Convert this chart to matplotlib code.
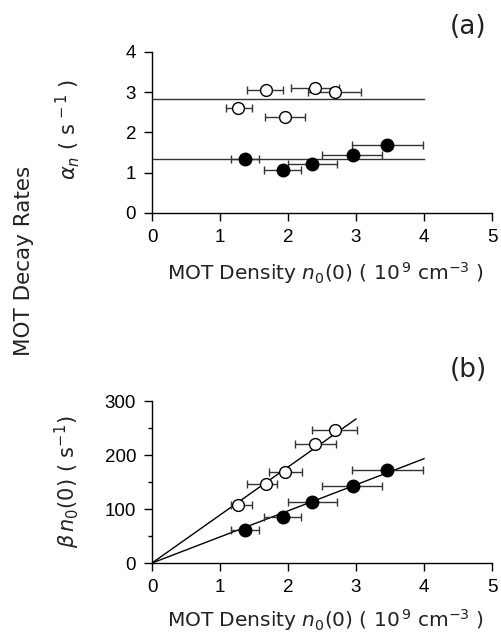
import numpy as np
import matplotlib as mpl
mpl.use('Agg')
import matplotlib.pyplot as plt

mpl.rcParams['font.family'] = ['Liberation Sans']
mpl.rcParams['mathtext.fontset'] = 'dejavusans'
mpl.rcParams['axes.linewidth'] = 1.0

# open circles
n_open = [1.67, 2.40, 2.69, 1.27, 1.95]
n_open_lo = [1.40, 2.05, 2.30, 1.09, 1.66]
n_open_hi = [1.93, 2.75, 3.08, 1.47, 2.25]
alpha_open = [3.06, 3.11, 3.01, 2.62, 2.39]
alpha_open_mean = 2.84

# filled circles
n_fill = [1.37, 1.92, 2.36, 2.95, 3.45]
n_fill_lo = [1.16, 1.64, 2.00, 2.50, 2.94]
n_fill_hi = [1.57, 2.19, 2.72, 3.38, 3.98]
alpha_fill = [1.33, 1.07, 1.22, 1.44, 1.69]
alpha_fill_mean = 1.35

# panel (b): beta*n0(0), same densities
bn_n_open = [1.27, 1.67, 1.95, 2.40, 2.69]
bn_n_open_lo = [1.16, 1.40, 1.72, 2.10, 2.36]
bn_n_open_hi = [1.47, 1.84, 2.20, 2.71, 3.02]
beta_open = [108, 146, 169, 220, 246]
slope_open = 88.9
bn_fill = [62, 85, 113, 143, 173]
slope_fill = 48.3

xlab = 'MOT Density $n_0$(0) ( 10$^{\\,9}$ cm$^{-3}$ )'
lab_font = dict(family='DejaVu Sans', color='#222222')


def xerr(x, lo, hi):
    x = np.array(x)
    return [x - np.array(lo), np.array(hi) - x]


def style(ax):
    ax.spines['top'].set_visible(False)
    ax.spines['right'].set_visible(False)
    ax.set_xlim(0, 5)
    ax.set_xticks([0, 1, 2, 3, 4, 5])
    ax.tick_params(labelsize=13.5, direction='out', length=5.5, width=1, pad=6)
    ax.tick_params(which='minor', direction='out', length=3, width=1)


fig = plt.figure(figsize=(5.01, 6.39), dpi=100)

ax1 = fig.add_axes([0.3034, 0.6667, 0.6786, 0.2520])
ax1.axhline(alpha_open_mean, xmin=0, xmax=0.8, color='#333333', lw=1)
ax1.axhline(alpha_fill_mean, xmin=0, xmax=0.8, color='#333333', lw=1)
ax1.errorbar(n_open, alpha_open, xerr=xerr(n_open, n_open_lo, n_open_hi), fmt='o',
             mfc='white', mec='black', ms=8.5, mew=1, ecolor='#333333', elinewidth=1,
             capsize=3, zorder=3)
ax1.errorbar(n_fill, alpha_fill, xerr=xerr(n_fill, n_fill_lo, n_fill_hi), fmt='o',
             mfc='black', mec='black', ms=9, ecolor='#333333', elinewidth=1,
             capsize=3, zorder=3)
ax1.set_ylim(0, 4)
ax1.set_yticks([0, 1, 2, 3, 4])
style(ax1)
ax1.set_xlabel(xlab, fontsize=14.5, **lab_font)
ax1.xaxis.set_label_coords(0.51, -0.29)
ax1.set_ylabel('$\\alpha_n$ ( s$^{\\,-1}$ )', fontsize=15, **lab_font)
ax1.yaxis.set_label_coords(-0.205, 0.52)

ax2 = fig.add_axes([0.3034, 0.1189, 0.6786, 0.2535])
xs_o = np.array([0, 3])
xs_f = np.array([0, 4])
ax2.plot(xs_o, slope_open * xs_o, color='black', lw=1)
ax2.plot(xs_f, slope_fill * xs_f, color='black', lw=1)
ax2.errorbar(bn_n_open, beta_open, xerr=xerr(bn_n_open, bn_n_open_lo, bn_n_open_hi), fmt='o',
             mfc='white', mec='black', ms=8.5, mew=1, ecolor='#333333', elinewidth=1,
             capsize=3, zorder=3)
ax2.errorbar(n_fill, bn_fill, xerr=xerr(n_fill, n_fill_lo, n_fill_hi), fmt='o',
             mfc='black', mec='black', ms=9, ecolor='#333333', elinewidth=1,
             capsize=3, zorder=3)
ax2.set_ylim(0, 300)
ax2.set_yticks([0, 100, 200, 300])
ax2.set_yticks([50, 150, 250], minor=True)
style(ax2)
ax2.set_xlabel(xlab, fontsize=14.5, **lab_font)
ax2.xaxis.set_label_coords(0.51, -0.27)
ax2.set_ylabel('$\\beta\\, n_0$(0) ( s$^{-1}$)', fontsize=15, **lab_font)
ax2.yaxis.set_label_coords(-0.205, 0.5)

fig.text(0.934, 0.958, '(a)', fontsize=19, ha='center', va='center', **lab_font)
fig.text(0.934, 0.421, '(b)', fontsize=19, ha='center', va='center', **lab_font)
fig.text(0.048, 0.592, 'MOT Decay Rates', fontsize=15.5, rotation=90, ha='center',
         va='center', **lab_font)

fig.savefig('out.png', dpi=100)
